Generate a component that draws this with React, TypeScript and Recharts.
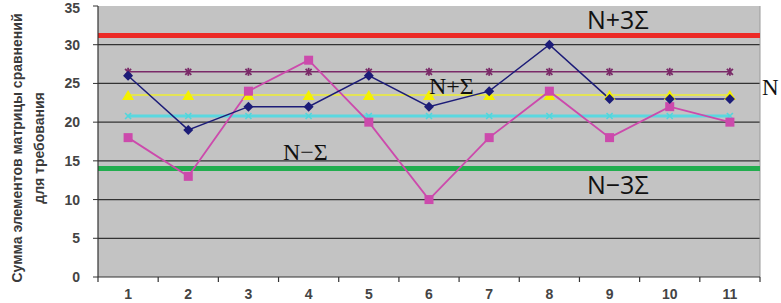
import { LineChart, Line, XAxis, YAxis, CartesianGrid, ReferenceLine } from "recharts";

// requirement index on the x axis
const categories = [1, 2, 3, 4, 5, 6, 7, 8, 9, 10, 11];
// sums of comparison matrix elements
const sumNavy = [26, 19, 22, 22, 26, 22, 24, 30, 23, 23, 23];
const sumPink = [18, 13, 24, 28, 20, 10, 18, 24, 18, 22, 20];
// control levels drawn as marked series
const levelStar = [26.5, 26.5, 26.5, 26.5, 26.5, 26.5, 26.5, 26.5, 26.5, 26.5, 26.5];
const levelTri = [23.5, 23.5, 23.5, 23.5, 23.5, 23.5, 23.5, 23.5, 23.5, 23.5, 23.5];
const levelCyan = [20.8, 20.8, 20.8, 20.8, 20.8, 20.8, 20.8, 20.8, 20.8, 20.8, 20.8];
// outer limits
const upper3 = 31.2;
const lower3 = 14;

const yTicks = [0, 5, 10, 15, 20, 25, 30, 35];
const gridValues = [5, 10, 15, 20, 25, 30];
const xTicks = [0.5, ...categories.flatMap((c) => [c, c + 0.5])];

const data = categories.map((c, i) => ({
  x: c,
  navy: sumNavy[i],
  pink: sumPink[i],
  star: levelStar[i],
  tri: levelTri[i],
  cyan: levelCyan[i],
}));

const axisFont = "Liberation Sans, Arial, sans-serif";

const Diamond = ({ cx, cy }: any) => (
  <polygon
    points={`${cx},${cy - 5} ${cx + 5},${cy} ${cx},${cy + 5} ${cx - 5},${cy}`}
    fill="#1c1c78"
  />
);

const Square = ({ cx, cy }: any) => (
  <rect x={cx - 4.5} y={cy - 4.5} width={9} height={9} fill="#cc4aac" />
);

const Triangle = ({ cx, cy }: any) => (
  <polygon
    points={`${cx},${cy - 5} ${cx + 6},${cy + 5} ${cx - 6},${cy + 5}`}
    fill="#f4f000"
  />
);

const Star = ({ cx, cy }: any) => (
  <g stroke="#7a2a68" strokeWidth={1.8}>
    <line x1={cx - 3} y1={cy - 3} x2={cx + 3} y2={cy + 3} />
    <line x1={cx - 3} y1={cy + 3} x2={cx + 3} y2={cy - 3} />
    <line x1={cx} y1={cy - 4} x2={cx} y2={cy + 4} />
  </g>
);

const Cross = ({ cx, cy }: any) => (
  <g stroke="#52d6dc" strokeWidth={1.6}>
    <line x1={cx - 3} y1={cy - 3} x2={cx + 3} y2={cy + 3} />
    <line x1={cx - 3} y1={cy + 3} x2={cx + 3} y2={cy - 3} />
  </g>
);

const XTick = (props: any) => {
  const { x, y, payload } = props;
  const v = payload.value;
  if (Number.isInteger(v)) {
    return (
      <text
        x={x}
        y={y}
        dy={22}
        textAnchor="middle"
        fontFamily={axisFont}
        fontWeight="bold"
        fontSize={14}
        fill="#444"
      >
        {v}
      </text>
    );
  }
  return <line x1={x} x2={x} y1={y} y2={y + 5} stroke="#333" strokeWidth={1.2} />;
};

const note = (extra: any) => ({
  position: "absolute" as const,
  lineHeight: 1,
  whiteSpace: "nowrap" as const,
  color: "#111",
  ...extra,
});

export default function App() {
  return (
    <div style={{ position: "absolute", left: 0, top: 0, width: 781, height: 303, background: "#fff" }}>
      <LineChart width={781} height={303} data={data} margin={{ top: 6, right: 21, bottom: 0, left: 0 }}>
        <CartesianGrid
          horizontal
          vertical={false}
          horizontalValues={gridValues}
          stroke="#333"
          strokeWidth={1.2}
          fill="#c3c3c3"
        />
        <XAxis
          dataKey="x"
          type="number"
          domain={[0.5, 11.5]}
          ticks={xTicks}
          interval={0}
          height={26}
          tickLine={false}
          tickSize={0}
          tickMargin={0}
          tick={<XTick />}
          axisLine={{ stroke: "#333", strokeWidth: 1.2 }}
        />
        <YAxis
          type="number"
          domain={[0, 35]}
          ticks={yTicks}
          width={98}
          tickSize={5}
          tickMargin={13}
          tickLine={{ stroke: "#333" }}
          axisLine={{ stroke: "#333", strokeWidth: 1.2 }}
          tick={{ fontFamily: axisFont, fontWeight: "bold", fontSize: 14, fill: "#444" }}
        />
        <ReferenceLine x={11.5} stroke="#9a9a9a" />
        <ReferenceLine y={upper3} stroke="#ec2a26" strokeWidth={5} />
        <ReferenceLine y={lower3} stroke="#22ad4e" strokeWidth={5} />
        <Line dataKey="cyan" stroke="#5ad8e0" strokeWidth={3} dot={<Cross />} isAnimationActive={false} />
        <Line dataKey="tri" stroke="#eeee30" strokeWidth={1.5} dot={<Triangle />} isAnimationActive={false} />
        <Line dataKey="star" stroke="#7a2a68" strokeWidth={1.5} dot={<Star />} isAnimationActive={false} />
        <Line dataKey="pink" stroke="#cc4aac" strokeWidth={1.8} dot={<Square />} isAnimationActive={false} />
        <Line dataKey="navy" stroke="#1c1c78" strokeWidth={1.5} dot={<Diamond />} isAnimationActive={false} />
      </LineChart>

      {/* rotated y axis title, two lines */}
      <div
        style={{
          position: "absolute",
          left: 28,
          top: 148,
          transform: "translate(-50%, -50%) rotate(-90deg)",
          textAlign: "center",
          fontFamily: axisFont,
          fontWeight: "bold",
          fontSize: 14,
          lineHeight: "22px",
          color: "#3a3a3a",
          whiteSpace: "nowrap",
        }}
      >
        Сумма элементов матрицы сравнений
        <br />
        для требования
      </div>

      <div style={note({ left: 587, top: 7, fontSize: 25, fontFamily: "Open Sans, sans-serif" })}>N+3Σ</div>
      <div style={note({ left: 587, top: 172, fontSize: 25, fontFamily: "Open Sans, sans-serif" })}>N−3Σ</div>
      <div style={note({ left: 429, top: 74, fontSize: 24, fontFamily: "Liberation Serif, serif" })}>N+Σ</div>
      <div style={note({ left: 283, top: 140, fontSize: 24, fontFamily: "Liberation Serif, serif" })}>N−Σ</div>
      <div style={note({ left: 762, top: 76, fontSize: 23, fontFamily: "Liberation Serif, serif" })}>N</div>
    </div>
  );
}
